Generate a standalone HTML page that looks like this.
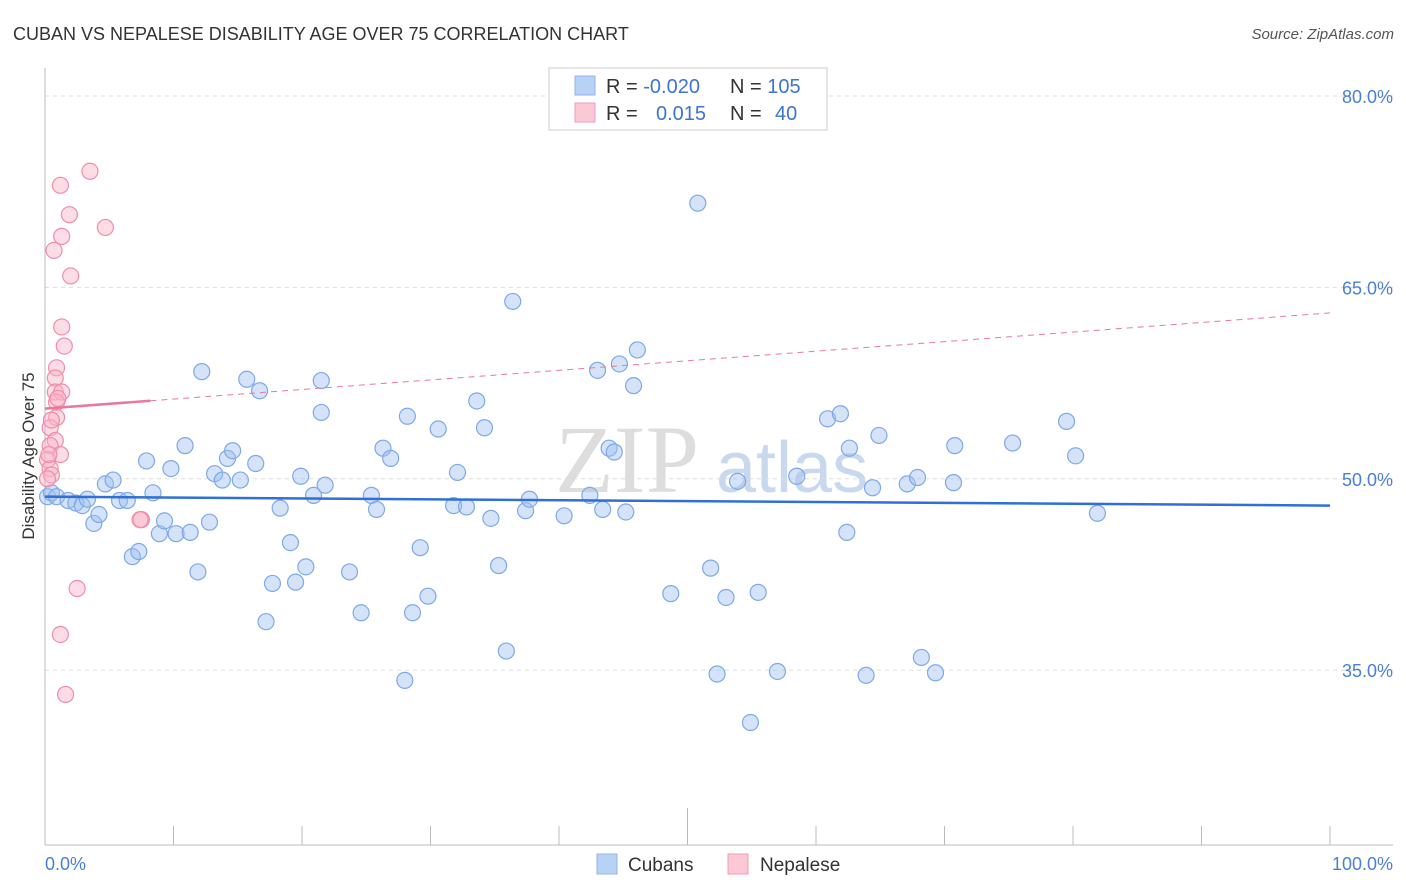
<!DOCTYPE html>
<html><head><meta charset="utf-8"><style>
body{margin:0;background:#fff;font-family:"Liberation Sans",sans-serif;}
svg{display:block}
</style></head><body>
<svg id="chart" width="1406" height="892" xmlns="http://www.w3.org/2000/svg">
<text x="13" y="40" font-size="18" fill="#333">CUBAN VS NEPALESE DISABILITY AGE OVER 75 CORRELATION CHART</text>
<text x="1394" y="39" font-size="15" fill="#555" font-style="italic" text-anchor="end">Source: ZipAtlas.com</text>
<g><text x="555" y="492" font-size="96" fill="#ddd" font-family="Liberation Serif">ZIP</text><text x="716" y="492" font-size="72" fill="#c8d8ee">atlas</text></g>
<g id="grid"></g>
<g id="axes"></g>
<g id="marks"></g>
<text transform="translate(34,456) rotate(-90)" font-size="17" fill="#333" text-anchor="middle">Disability Age Over 75</text>
<text x="45" y="870" font-size="18" fill="#4a7fd4">0.0%</text>
<text x="1393" y="870" font-size="18" fill="#4a7fd4" text-anchor="end">100.0%</text>
<g>
<rect x="549" y="68" width="278" height="62" fill="#fff" stroke="#ccc"/>
<rect x="575" y="76" width="20" height="19" fill="#b8d2f5" stroke="#8fb3ea"/>
<rect x="575" y="103" width="20" height="19" fill="#fcc8d6" stroke="#f29ab4"/>
<text x="606" y="93" font-size="20" fill="#333">R = <tspan fill="#3d74d0">-0.020</tspan></text>
<text x="730" y="93" font-size="20" fill="#333">N = <tspan fill="#3d74d0">105</tspan></text>
<text x="606" y="120" font-size="20" fill="#333">R = <tspan fill="#3d74d0" x="656">0.015</tspan></text>
<text x="730" y="120" font-size="20" fill="#333">N = <tspan fill="#3d74d0" x="775">40</tspan></text>
</g>
<g>
<rect x="597" y="854" width="20" height="20" fill="#b8d2f5" stroke="#8fb3ea"/>
<text x="628" y="871" font-size="19" fill="#333">Cubans</text>
<rect x="728" y="854" width="20" height="20" fill="#fcc8d6" stroke="#f29ab4"/>
<text x="760" y="871" font-size="19" fill="#333">Nepalese</text>
</g>
</svg>
<script>
const yTicks=[80,65,50,35];
const yTickLabels=["80.0%","65.0%","50.0%","35.0%"];
const cubanX=[0.2,0.5,0.9,1.8,2.4,2.9,3.3,3.8,4.2,4.7,5.3,5.8,6.4,6.8,7.3,7.9,8.4,8.9,9.3,9.8,10.2,10.9,11.3,11.9,12.2,12.8,13.2,13.8,14.2,14.6,15.2,15.7,16.4,16.7,17.2,17.7,18.3,19.1,19.5,19.9,20.3,20.9,21.5,21.8,21.5,23.7,24.6,25.4,25.8,26.3,26.9,28.0,28.2,28.6,29.2,29.8,30.6,31.8,32.1,32.8,33.6,34.2,34.7,35.3,35.9,36.4,37.4,37.7,40.4,42.4,43.0,43.4,43.9,44.3,44.7,45.2,45.8,46.1,48.7,50.8,51.8,52.3,53.0,53.9,54.9,55.5,57.0,58.5,60.9,61.9,62.4,62.6,63.9,64.4,64.9,67.1,67.9,68.2,69.3,70.7,70.8,75.3,79.5,80.2,81.9];
const cubanY=[48.6,48.9,48.6,48.3,48.1,47.9,48.4,46.5,47.2,49.6,49.9,48.3,48.3,43.9,44.3,51.4,48.9,45.7,46.7,50.8,45.7,52.6,45.8,42.7,58.4,46.6,50.4,49.9,51.6,52.2,49.9,57.8,51.2,56.9,38.8,41.8,47.7,45.0,41.9,50.2,43.1,48.7,57.7,49.5,55.2,42.7,39.5,48.7,47.6,52.4,51.6,34.2,54.9,39.5,44.6,40.8,53.9,47.9,50.5,47.8,56.1,54.0,46.9,43.2,36.5,63.9,47.5,48.4,47.1,48.7,58.5,47.6,52.4,52.1,59.0,47.4,57.3,60.1,41.0,71.6,43.0,34.7,40.7,49.8,30.9,41.1,34.9,50.2,54.7,55.1,45.8,52.4,34.6,49.3,53.4,49.6,50.1,36.0,34.8,49.7,52.6,52.8,54.5,51.8,47.3];
const nepX=[1.2,3.5,1.9,4.7,1.3,0.7,2.0,1.3,1.5,0.9,0.8,0.8,1.3,0.9,0.9,0.4,0.8,0.4,1.2,0.2,0.4,0.5,0.2,7.5,7.4,2.5,1.2,1.6,0.5,1.0,0.3];
const nepY=[73.0,74.1,70.7,69.7,69.0,67.9,65.9,61.9,60.4,58.7,57.9,56.8,56.8,56.0,54.8,54.0,53.0,52.6,51.9,51.5,50.8,50.3,50.0,46.8,46.8,41.4,37.8,33.1,54.6,56.3,51.9];
const cubanTrend=[48.6,47.9];
const nepTrend=[55.5,63.0];
const nepSolidEnd=8.2;

const NS="http://www.w3.org/2000/svg";
const X=v=>45+v*12.85, Y=v=>96+(80-v)*12.76;
function mk(t,a,p){const e=document.createElementNS(NS,t);for(const k in a)e.setAttribute(k,a[k]);p.appendChild(e);return e;}
const grid=document.getElementById('grid'),axes=document.getElementById('axes'),marks=document.getElementById('marks');
yTicks.forEach((t,i)=>{
 const l=mk('line',{x1:45,x2:1393,y1:Y(t),y2:Y(t),stroke:'#ddd','stroke-dasharray':'4,4'},grid);
 
 
 const tx=mk('text',{x:1393,y:Y(t)+7,'font-size':18,fill:'#4a7fd4','text-anchor':'end'},axes);
 tx.textContent=yTickLabels[i];
 
 
});
mk('line',{x1:45,x2:45,y1:68,y2:845,stroke:'#bbb'},axes);
mk('line',{x1:45,x2:1393,y1:845,y2:845,stroke:'#bbb'},axes);
for(let i=0;i<=10;i++){const t=mk('line',{x1:X(i*10),x2:X(i*10),y1:i==5?808:826,y2:845,stroke:'#bbb'},axes);
 
 }
cubanX.forEach((x,i)=>{const c=mk('circle',{cx:X(x),cy:Y(cubanY[i]),r:8,fill:'rgba(160,192,240,0.45)',stroke:'#7ea8e8','stroke-width':1.2},marks);
 
 });
nepX.forEach((x,i)=>{const c=mk('circle',{cx:X(x),cy:Y(nepY[i]),r:8,fill:'rgba(248,180,200,0.45)',stroke:'#f08cab','stroke-width':1.2},marks);
 
 });
const ct=mk('line',{x1:X(0),x2:X(100),y1:Y(cubanTrend[0]),y2:Y(cubanTrend[1]),stroke:'#2f6fd6','stroke-width':2.5},marks);


const ny=x=>nepTrend[0]+(nepTrend[1]-nepTrend[0])*x/100;
const nd=mk('line',{x1:X(nepSolidEnd),x2:X(100),y1:Y(ny(nepSolidEnd)),y2:Y(ny(100)),stroke:'#e8799c','stroke-width':1,'stroke-dasharray':'6,5'},marks);


const ns=mk('line',{x1:X(0),x2:X(nepSolidEnd),y1:Y(ny(0)),y2:Y(ny(nepSolidEnd)),stroke:'#e8799c','stroke-width':2.5},marks);


</script>
</body></html>
